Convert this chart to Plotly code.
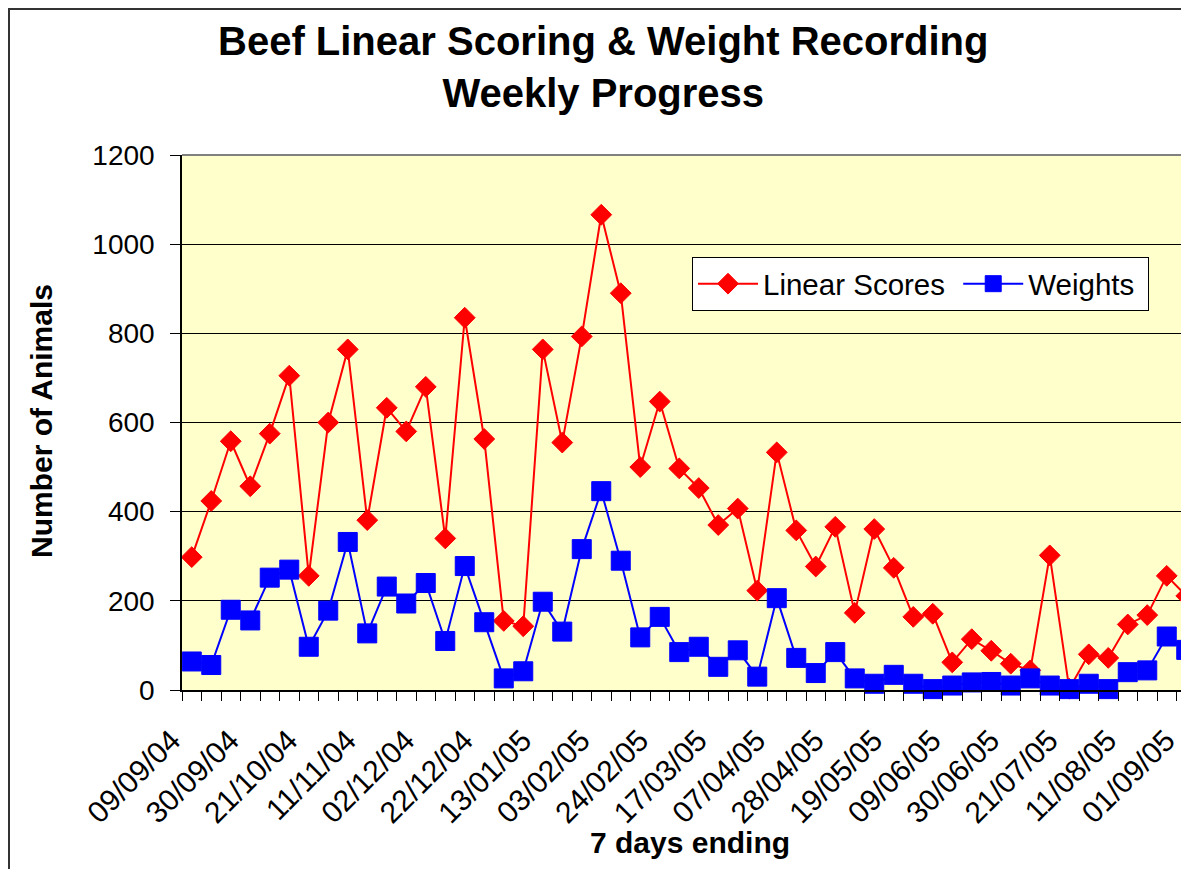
import plotly.graph_objects as go

# ---- data ----
week_ending = [
    "09/09/04", "16/09/04", "23/09/04", "30/09/04", "07/10/04", "14/10/04",
    "21/10/04", "28/10/04", "04/11/04", "11/11/04", "18/11/04", "25/11/04",
    "02/12/04", "09/12/04", "16/12/04", "22/12/04", "30/12/04", "06/01/05",
    "13/01/05", "20/01/05", "27/01/05", "03/02/05", "10/02/05", "17/02/05",
    "24/02/05", "03/03/05", "10/03/05", "17/03/05", "24/03/05", "31/03/05",
    "07/04/05", "14/04/05", "21/04/05", "28/04/05", "05/05/05", "12/05/05",
    "19/05/05", "26/05/05", "02/06/05", "09/06/05", "16/06/05", "23/06/05",
    "30/06/05", "07/07/05", "14/07/05", "21/07/05", "28/07/05", "04/08/05",
    "11/08/05", "18/08/05", "25/08/05", "01/09/05",
]
linear_scores = [
    298, 424, 558, 457, 575, 705, 256, 600, 764, 381, 633, 580,
    680, 340, 835, 563, 155, 143, 764, 555, 793, 1066, 890, 500,
    647, 497, 453, 370, 407, 223, 533, 358, 277, 366, 173, 361,
    274, 164, 171, 62, 114, 88, 59, 44, 302, 3, 80, 72,
    147, 168, 256, 211,
]
weights = [
    64, 56, 180, 156, 252, 270, 97, 178, 332, 127, 232, 194,
    240, 110, 278, 152, 26, 42, 198, 131, 316, 446, 290, 118,
    164, 85, 97, 52, 89, 30, 206, 72, 38, 85, 26, 14,
    34, 14, 2, 10, 17, 18, 10, 26, 10, 2, 14, 2,
    40, 44, 120, 90,
]
series_names = ["Linear Scores", "Weights"]
label_step = 3
y_ticks = [0, 200, 400, 600, 800, 1000, 1200]

FONT = "Liberation Sans, Arial, sans-serif"
OFF = 8                      # browser body margin
W, H = 1189 - OFF, 869 - OFF
L, R = 182 - OFF, 0
T = 155 - OFF
B = H - (690 - OFF)

x_idx = list(range(len(week_ending)))
tick_idx = x_idx[::label_step]
tick_txt = week_ending[::label_step]

NB = "\u00a0"
fig = go.Figure()
fig.add_trace(go.Scatter(
    x=x_idx, y=linear_scores, customdata=week_ending,
    name=series_names[0] + NB,
    mode="lines+markers",
    line=dict(color="#FF0000", width=2),
    marker=dict(symbol="diamond", size=16, color="#FF0000",
                line=dict(color="#FF0000", width=1)),
    cliponaxis=False,
    hovertemplate="%{customdata}: %{y}<extra>Linear Scores</extra>",
))
fig.add_trace(go.Scatter(
    x=x_idx, y=weights, customdata=week_ending,
    name=series_names[1] + NB,
    mode="lines+markers",
    line=dict(color="#0000FF", width=2),
    marker=dict(symbol="square", size=19, color="#0000FF",
                line=dict(color="#0000FF", width=1)),
    cliponaxis=False,
    hovertemplate="%{customdata}: %{y}<extra>Weights</extra>",
))

pw = W - L - R
ph = H - T - B

def px_x(p):          # page pixel -> paper fraction
    return (p - OFF - L) / pw

def px_y(p):
    return (H - B - (p - OFF)) / ph

fig.update_layout(
    width=W, height=H,
    margin=dict(l=L, r=R, t=T, b=B, autoexpand=False),
    paper_bgcolor="white",
    plot_bgcolor="#FFFFCC",
    font=dict(family=FONT, size=28, color="black"),
    showlegend=True,
    legend=dict(
        orientation="h",
        x=px_x(692), y=px_y(257), xanchor="left", yanchor="top",
        bgcolor="white", bordercolor="black", borderwidth=1,
        font=dict(family=FONT, size=29.5, color="black"),
        itemwidth=60,
    ),
    xaxis=dict(
        range=[-0.5, -0.5 + pw / 19.5],
        tickmode="array", tickvals=tick_idx, ticktext=tick_txt,
        tickangle=-45, ticks="",
        ticklabelstandoff=19, ticklabelshift=-20,
        tickfont=dict(family=FONT, size=30, color="black"),
        showgrid=False, zeroline=False,
        showline=True, linecolor="black", linewidth=1.5,
        minor=dict(ticks="outside", tickmode="linear", tick0=-0.5, dtick=1,
                   ticklen=9, tickcolor="black", tickwidth=1, showgrid=False),
    ),
    yaxis=dict(
        range=[0, 1200], tickmode="array", tickvals=y_ticks,
        ticks="outside", ticklen=10, tickcolor="black", tickwidth=1,
        ticklabelstandoff=10,
        tickfont=dict(family=FONT, size=28, color="black"),
        showgrid=True, gridcolor="black", gridwidth=1,
        zeroline=False, showline=True, linecolor="black", linewidth=1.5,
    ),
    annotations=[
        dict(text="<b>Beef Linear Scoring &amp; Weight Recording<br>Weekly Progress</b>",
             xref="paper", yref="paper", x=px_x(603), y=px_y(67),
             xanchor="center", yanchor="middle", showarrow=False,
             font=dict(family=FONT, size=40, color="black")),
        dict(text="<b>Number of Animals</b>", textangle=-90,
             xref="paper", yref="paper", x=px_x(41), y=px_y(421),
             xanchor="center", yanchor="middle", showarrow=False,
             font=dict(family=FONT, size=30, color="black")),
        dict(text="<b>7 days ending</b>",
             xref="paper", yref="paper", x=px_x(690), y=px_y(843),
             xanchor="center", yanchor="middle", showarrow=False,
             font=dict(family=FONT, size=30, color="black")),
    ],
    shapes=[
        # outer chart frame (cut off on right and bottom)
        dict(type="rect", xref="paper", yref="paper",
             x0=px_x(OFF + 1), x1=px_x(1189 + 30), y0=px_y(869 + 30), y1=px_y(OFF + 1),
             line=dict(color="#333333", width=2), fillcolor="rgba(0,0,0,0)",
             layer="above"),
        # grey top border of plot area
        dict(type="line", xref="paper", yref="paper",
             x0=0, x1=1, y0=1, y1=1,
             line=dict(color="#808080", width=2), layer="below"),
    ],
)

fig.write_html("out.html")
